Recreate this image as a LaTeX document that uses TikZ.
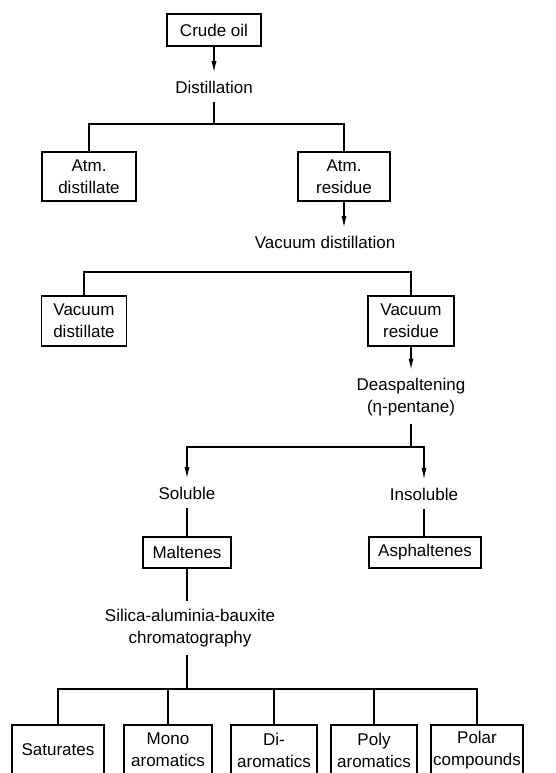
\documentclass[tikz,border=0pt]{standalone}
\usepackage{fontspec}
\setmainfont{Liberation Sans}
\usetikzlibrary{arrows.meta}
\newcommand{\flowfont}{\fontsize{17}{22}\selectfont}

\begin{document}
\begin{tikzpicture}[x=1pt,y=-1pt,line width=1.1pt,
  box/.style={draw=black,rectangle,line width=1.4pt,inner sep=0pt,align=center,font=\flowfont},
  txt/.style={inner xsep=0pt,inner ysep=8pt,align=center,font=\flowfont},
  arr/.style={-{Latex[length=11pt,width=5pt]}}]
\useasboundingbox (0,0) rectangle (555,773);

% first stage
\node[box,minimum width=94pt,minimum height=32pt] (CO) at (214,30) {Crude oil};
\node[txt] (DL) at (214,87) {Distillation};
\node[box,minimum width=94pt,minimum height=49pt] (AD) at (89,176.5) {Atm.\\distillate};
\node[box,minimum width=92pt,minimum height=49pt] (AR) at (344,176.5) {Atm.\\residue};
\coordinate (J1) at (214,124);

% vacuum stage
\node[txt] (VL) at (325,242) {Vacuum distillation};
\node[box,minimum width=85pt,minimum height=50pt] (VD) at (84,321) {Vacuum\\distillate};
\node[box,minimum width=86pt,minimum height=50pt] (VR) at (411,321) {Vacuum\\residue};
\coordinate (J2) at (250,272);

% deasphaltening
\node[txt] (DA) at (411,397) {Deaspaltening\\(η-pentane)};
\coordinate (J3) at (411,447);
\node[txt] (SO) at (187,493) {Soluble};
\node[txt] (IN) at (424,494) {Insoluble};
\node[box,minimum width=88pt,minimum height=31pt] (MA) at (187,552.5) {Maltenes};
\node[box,minimum width=112pt,minimum height=31pt] (AS) at (425,552.5) {Asphaltenes};

% chromatography
\node[txt] (CH) at (190,628) {Silica-aluminia-bauxite\\chromatography};
\coordinate (J4) at (187,689);
\node[box,minimum width=92pt,minimum height=50pt] (SA) at (58,750) {Saturates};
\node[box,minimum width=88pt,minimum height=50pt] (MO) at (168,750) {Mono\\aromatics};
\node[box,minimum width=86pt,minimum height=50pt] (DI) at (274,750) {Di-\\aromatics};
\node[box,minimum width=86pt,minimum height=50pt] (PO) at (374,750) {Poly\\aromatics};
\node[box,minimum width=92pt,minimum height=50pt] (PC) at (477,750) {Polar\\compounds};

\draw[arr] (CO.south) -- (CO.south |- DL.north);
\draw (DL.south) -- (J1);
\draw (AD.north) |- (J1) -| (AR.north);
\draw[arr] (AR.south) -- (AR.south |- VL.north);
\draw (VD.north) |- (J2) -| (VR.north);
\draw[arr] (VR.south) -- (VR.south |- DA.north);
\draw (DA.south) -- (J3);
\draw[arr] (J3) -| (SO.north);
\draw[arr] (J3) -| (IN.north);
\draw (SO.south) -- (MA.north);
\draw (IN.south) -- (IN.south |- AS.north);
\draw (MA.south) -- (MA.south |- CH.north);
\draw (MA.south |- CH.south) -- (J4);
\draw (SA.north) |- (J4) -| (PC.north);
\draw (MO.north) -- (MO.north |- J4);
\draw (DI.north) -- (DI.north |- J4);
\draw (PO.north) -- (PO.north |- J4);
\end{tikzpicture}
\end{document}
